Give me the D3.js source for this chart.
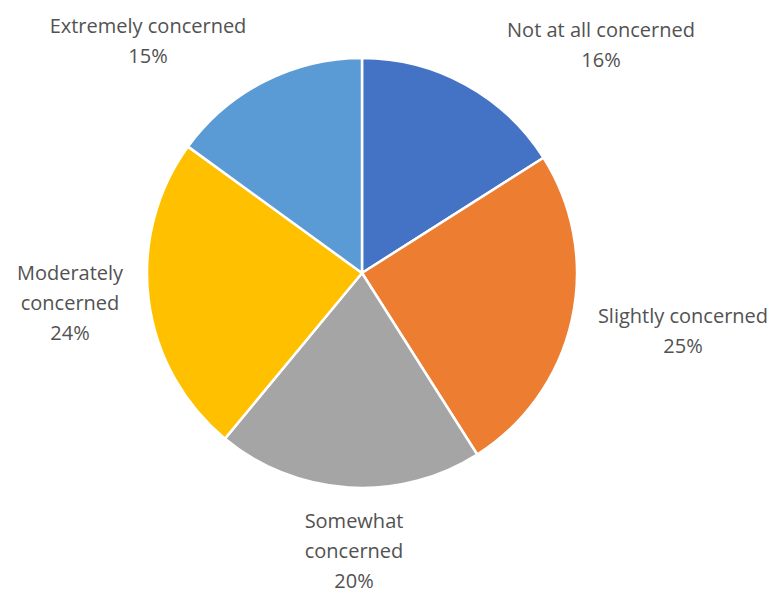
<!DOCTYPE html>
<html>
<head>
<meta charset="utf-8">
<script src="https://cdn.jsdelivr.net/npm/d3@7"></script>
<style>
  body { margin: 0; background: #fff; }
  svg { display: block; }
</style>
</head>
<body>
<svg id="chart" width="776" height="595"></svg>
<script>
const categories = ['Not at all concerned', 'Slightly concerned', 'Somewhat concerned', 'Moderately concerned', 'Extremely concerned'];
const values = [16, 25, 20, 24, 15];
// how each label wraps, like Excel did it
const labelLines = [
  ['Not at all concerned'],
  ['Slightly concerned'],
  ['Somewhat', 'concerned'],
  ['Moderately', 'concerned'],
  ['Extremely concerned']
];
const colors = ['#4472C4', '#ED7D31', '#A5A5A5', '#FFC000', '#5B9BD5'];

// layout
const cx = 362, cy = 273, radius = 215;
const lineH = 30;
// label centre offsets from the pie centre
const labelOffset = [[239, -228], [321, 58], [-8, 278], [-292, 30], [-214, -232]];

const svg = d3.select('#chart');
const g = svg.append('g').attr('transform', `translate(${cx}, ${cy})`);

const pie = d3.pie().sort(null).value(d => d.value);
const arc = d3.arc().innerRadius(0).outerRadius(radius);

const data = categories.map((c, i) => ({ name: c, value: values[i], i }));
const total = d3.sum(values);

g.selectAll('path.slice')
  .data(pie(data))
  .join('path')
  .attr('class', 'slice')
  .attr('d', arc)
  .attr('fill', d => colors[d.data.i])
  .attr('stroke', '#fff')
  .attr('stroke-width', 2.5)
  .attr('stroke-linejoin', 'round');

const labels = g.selectAll('text.label')
  .data(data)
  .join('text')
  .attr('class', 'label')
  .attr('text-anchor', 'middle')
  .attr('font-family', 'Open Sans, sans-serif')
  .attr('font-size', '20px')
  .attr('fill', '#525252');

labels.each(function(d) {
  const lines = labelLines[d.i].concat([Math.round(d.value / total * 100) + '%']);
  const [ox, oy] = labelOffset[d.i];
  const y0 = oy - (lines.length - 1) * lineH / 2;
  d3.select(this).selectAll('tspan')
    .data(lines)
    .join('tspan')
    .attr('x', ox)
    .attr('y', (l, j) => y0 + j * lineH)
    .attr('dy', '0.35em')
    .text(l => l);
});
</script>
</body>
</html>
